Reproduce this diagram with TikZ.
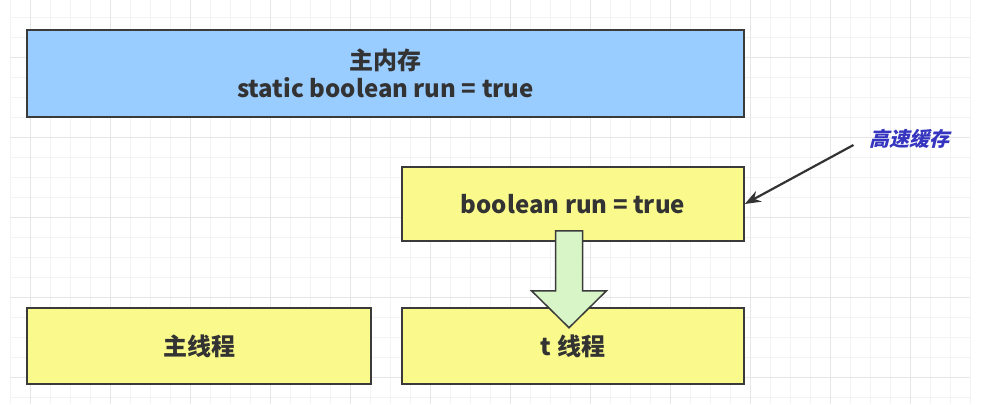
\documentclass[tikz,border=0pt]{standalone}
\usepackage{fontspec}
\setmainfont{Noto Sans CJK SC}
\newfontfamily\cachefont[FakeSlant=0.25]{Noto Sans CJK SC}
\usetikzlibrary{calc,arrows.meta}

\definecolor{memblue}{HTML}{99CCFF}
\definecolor{thrdyellow}{HTML}{FAFA8C}
\definecolor{copygreen}{HTML}{D8F5C8}
\definecolor{boxline}{HTML}{3A3A3A}
\definecolor{txtgray}{HTML}{333333}
\definecolor{cacheblue}{HTML}{3535C0}
\definecolor{gridfine}{HTML}{F3F3F3}
\definecolor{gridmajor}{HTML}{E6E6E6}

\tikzset{
  membox/.style={draw=boxline, line width=1.5pt, fill=#1, text=txtgray,
    font=\bfseries\fontsize{24}{28}\selectfont, align=center, inner sep=0pt},
  copyarrow/.style={draw=boxline, line width=1.5pt, fill=copygreen, line join=miter},
}

\begin{document}
\begin{tikzpicture}[x=1pt,y=-1pt]
        \useasboundingbox (0,0) rectangle (981,404);
        \fill[white] (0,0) rectangle (981,404);
        % grid
        \foreach \gx in {10,30,...,970} \draw[gridfine, line width=0.8pt] (\gx,0) -- (\gx,404);
        \foreach \gy in {17,37,...,397} \draw[gridfine, line width=0.8pt] (10,\gy) -- (970,\gy);
        \foreach \gx in {30,110,...,910} \draw[gridmajor, line width=0.8pt] (\gx,0) -- (\gx,404);
        \foreach \gy in {57,137,...,377} \draw[gridmajor, line width=0.8pt] (10,\gy) -- (970,\gy);

        \node[membox=memblue, minimum width=717pt, minimum height=87pt] (mainmem) at (385.5,73.5) {主内存\\static boolean run = true};
        \node[membox=thrdyellow, minimum width=342pt, minimum height=74pt] (cache) at (573,204) {boolean run = true};
        \node[membox=thrdyellow, minimum width=344pt, minimum height=76pt] (mainthr) at (199,346) {主线程};
        \node[membox=thrdyellow, minimum width=342pt, minimum height=76pt] (tthr) at (573,346) {t 线程};

        \node[text=cacheblue, font=\cachefont\bfseries\fontsize{20}{24}\selectfont] (cachelbl) at (909,139) {高速缓存};
        \draw[txtgray, line width=2.2pt, -{Stealth[length=16pt,width=12pt]}] ($(cachelbl.west)+(-12,6)$) -- (cache.east);

        %copy of run into the thread
        \coordinate (copytop) at ($(cache.south)+(-4,-11)$);
        \draw[copyarrow] (copytop) ++(-13.5,0) -- ++(27,0) -- ++(0,60) -- ++(24,0) -- ++(-37.5,37) -- ++(-37.5,-37) -- ++(24,0) -- cycle;
      \end{tikzpicture}
\end{document}
